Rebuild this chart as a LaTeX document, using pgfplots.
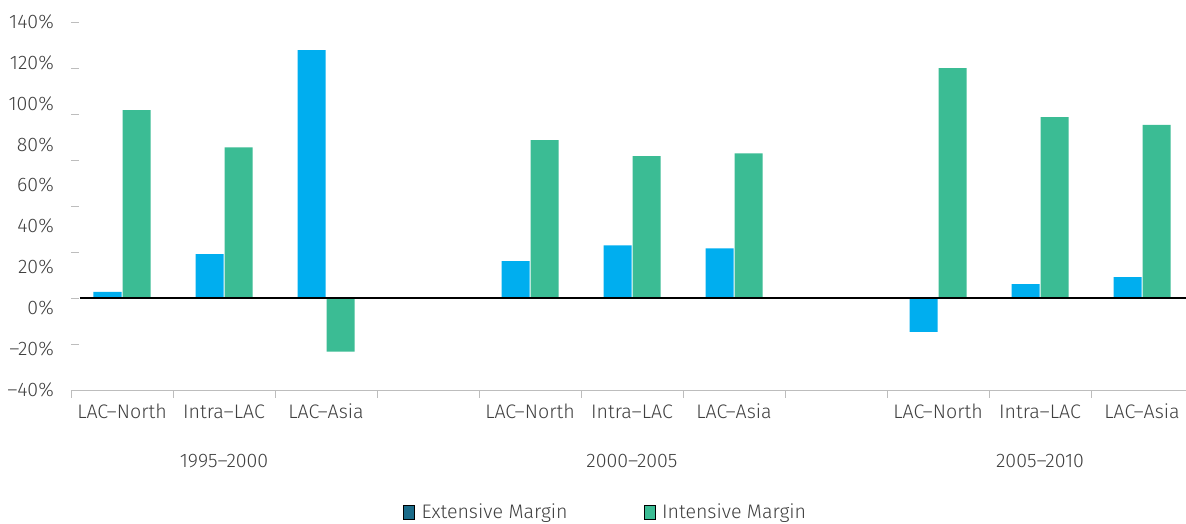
\documentclass[border=0pt]{standalone}
\usepackage{pgfplots}
\pgfplotsset{compat=1.18}
\usepackage{fontspec}
\setmainfont{Fira Sans}[UprightFont=* Light]

\definecolor{extblue}{HTML}{00AEEF}
\definecolor{intgreen}{HTML}{3BBC94}
\definecolor{extteal}{HTML}{1B6B89}
\definecolor{txtgray}{HTML}{404040}
\definecolor{linegray}{HTML}{BDBDBD}

\newcommand{\chartfont}{\fontsize{19.6}{23}\selectfont}

\begin{document}
\begin{tikzpicture}[x=1pt,y=1pt]
\path[use as bounding box] (0,0) rectangle (1186,523);
\begin{axis}[
    at={(71pt,133pt)}, anchor=south west,
    scale only axis, width=1122pt, height=368pt,
    xmin=-0.5, xmax=10.5, ymin=-40, ymax=120,
    clip=false,
    axis x line=bottom, axis y line=left,
    x axis line style={-, draw=linegray, line width=1pt},
    y axis line style={draw=none},
    tick align=outside,
    major tick length=0pt, minor tick length=7.5pt,
    major tick style={draw=none},
    minor tick style={draw=linegray, line width=1pt},
    every minor y tick/.append style={xshift=7.5pt},
    xtick={0,...,10},
    xticklabels={LAC–North,Intra–LAC,LAC–Asia,{},LAC–North,Intra–LAC,LAC–Asia,{},LAC–North,Intra–LAC,LAC–Asia},
    minor xtick={-0.5,0.5,...,9.5},
    ytick={-39.75,-22,-4.25,13.5,31.25,49,66.75,84.5,102.25,120},
    yticklabels={–40\%,–20\%,0\%,20\%,40\%,60\%,80\%,100\%,120\%,140\%},
    minor ytick={-40,-20,...,120},
    tick label style={font=\chartfont, text=txtgray},
    xticklabel style={anchor=base, inner sep=0pt, yshift=-28pt},
    yticklabel style={anchor=east, inner sep=0pt, xshift=-17pt},
    legend image code/.code={\fill[#1] (0pt,-7pt) rectangle (11pt,7pt);},
    legend style={draw=none, fill=none, font=\chartfont, text=txtgray,
        legend columns=2, at={(axis description cs:0.4765,-0.331)}, anchor=center,
        /tikz/every odd column/.append style={column sep=5pt},
        /tikz/every even column/.append style={column sep=74pt}},
]
\addplot[ybar, bar width=28pt, bar shift=-14.5pt, fill=extblue, draw=none, forget plot]
    coordinates {(0,2.7) (1,19.1) (2,107.8) (4,16) (5,22.9) (6,21.6) (8,-14.7) (9,6) (10,9.1)};
\addplot[ybar, bar width=28pt, bar shift=14.5pt, fill=intgreen, draw=none, forget plot]
    coordinates {(0,81.7) (1,65.5) (2,-23.3) (4,68.6) (5,61.7) (6,62.9) (8,99.9) (9,78.6) (10,75.3)};
\addlegendimage{fill=extteal}
\addlegendentry{Extensive Margin}
\addlegendimage{fill=intgreen}
\addlegendentry{Intensive Margin}
\draw[black, line width=2.7pt] (axis cs:-0.412,0) -- (axis cs:10.5,0);
\node[font=\chartfont, text=txtgray, anchor=base] at (axis cs:1,-40) [yshift=-77pt] {1995–2000};
\node[font=\chartfont, text=txtgray, anchor=base] at (axis cs:5,-40) [yshift=-77pt] {2000–2005};
\node[font=\chartfont, text=txtgray, anchor=base] at (axis cs:9,-40) [yshift=-77pt] {2005–2010};
\end{axis}
\end{tikzpicture}
\end{document}
